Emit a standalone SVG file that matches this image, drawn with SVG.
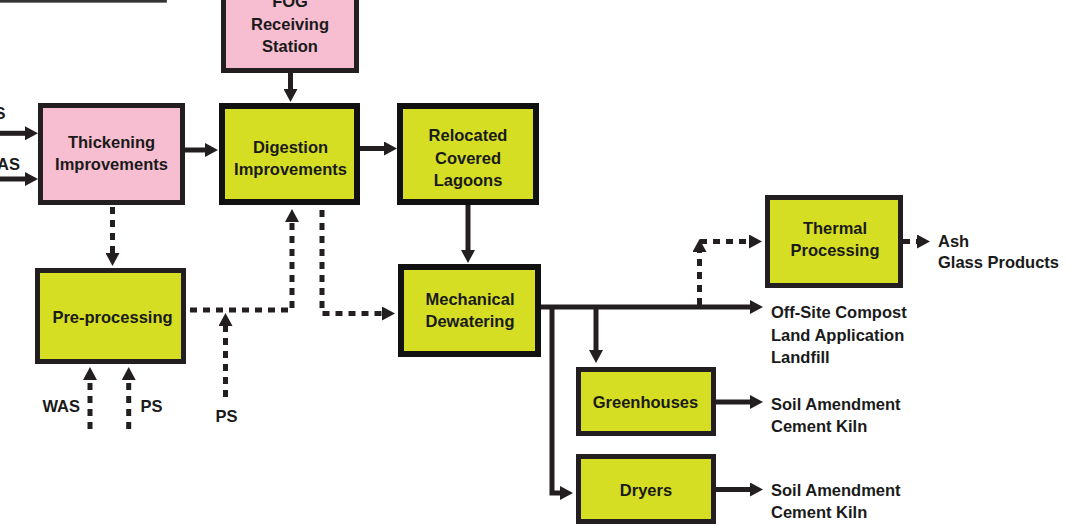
<svg xmlns="http://www.w3.org/2000/svg" width="1068" height="531" viewBox="0 0 1068 531">
<style>
.pink{fill:#f7bdd0;stroke:#231f20;stroke-width:5}
.green{fill:#d5de22;stroke:#231f20;stroke-width:5}
.gthick{fill:#d5de22;stroke:#111;stroke-width:6}
.t{font-family:"Liberation Sans",Arial,sans-serif;font-weight:bold;font-size:16.5px;fill:#1a1a1a}
.c{text-anchor:middle}
.e{text-anchor:end}
.solid{fill:none;stroke:#231f20;stroke-width:5;marker-end:url(#ah)}
.dot{fill:none;stroke:#231f20;stroke-width:5;stroke-dasharray:7 6;marker-end:url(#ah)}
</style>
<defs>
<marker id="ah" markerUnits="userSpaceOnUse" viewBox="0 0 13 14" markerWidth="13" markerHeight="14" refX="0" refY="7" orient="auto">
<path d="M0,0 L13,7 L0,14 z" fill="#231f20"/>
</marker>
</defs>
<rect width="1068" height="531" fill="#fff"/>
<g id="topleft-box"><rect x="-10" y="-20" width="175.5" height="21.3" fill="#fff" stroke="#333" stroke-width="2.7"/></g>
<g id="connectors">
<path class="solid" d="M0,133.3 H25"/>
<path class="solid" d="M0,179 H25"/>
<path class="solid" d="M185,150 H205"/>
<path class="solid" d="M290.5,73 V89"/>
<path class="solid" d="M360,148.5 H384"/>
<path class="solid" d="M468,205 V250"/>
<path class="solid" d="M541,307 H750"/>
<path class="solid" d="M596,307 V350"/>
<path class="solid" d="M552,307 V493 H560"/>
<path class="solid" d="M716,402 H750"/>
<path class="solid" d="M716,489.5 H750"/>
<path class="dot" d="M112.5,207 V253"/>
<path class="dot" d="M190,310 H292 V222"/>
<path class="dot" d="M225.5,397 V326"/>
<path class="dot" d="M90,429 V380"/>
<path class="dot" d="M128.7,429 V380"/>
<path class="dot" d="M322,210 V313.5 H382"/>
<path class="dot" d="M699.5,305 V252"/>
<path class="dot" d="M700,241.5 H749"/>
<path class="dot" d="M903,241.5 H917"/>
</g>
<g id="fog"><rect class="pink" x="223.5" y="-30" width="133" height="100.5"/>
<text class="t c" x="290" y="7">FOG</text><text class="t c" x="290" y="29.5">Receiving</text><text class="t c" x="290" y="52">Station</text></g>
<g id="thickening"><rect class="pink" x="40.5" y="105.5" width="142" height="97"/>
<text class="t c" x="111.5" y="148">Thickening</text><text class="t c" x="111.5" y="170">Improvements</text></g>
<g id="digestion"><rect class="gthick" x="222" y="106" width="135" height="96"/>
<text class="t c" x="290.5" y="152.5">Digestion</text><text class="t c" x="290.5" y="175">Improvements</text></g>
<g id="lagoons"><rect class="gthick" x="400" y="106" width="136" height="96"/>
<text class="t c" x="468" y="141">Relocated</text><text class="t c" x="468" y="163.5">Covered</text><text class="t c" x="468" y="185.5">Lagoons</text></g>
<g id="dewatering"><rect class="gthick" x="401" y="267" width="137" height="87"/>
<text class="t c" x="470" y="305">Mechanical</text><text class="t c" x="470" y="326.5">Dewatering</text></g>
<g id="preprocessing"><rect class="green" x="37.5" y="270.5" width="146" height="91"/>
<text class="t c" x="112.5" y="322.5">Pre-processing</text></g>
<g id="thermal"><rect class="green" x="767.5" y="197.5" width="133" height="88"/>
<text class="t c" x="835" y="233.5">Thermal</text><text class="t c" x="835" y="255.5">Processing</text></g>
<g id="greenhouses"><rect class="green" x="578.5" y="369.5" width="135" height="64"/>
<text class="t c" x="645.5" y="408">Greenhouses</text></g>
<g id="dryers"><rect class="green" x="578.5" y="456.5" width="135" height="65"/>
<text class="t c" x="646" y="495.5">Dryers</text></g>
<g id="labels">
<text class="t e" x="5.5" y="119">S</text>
<text class="t e" x="20" y="170">AS</text>
<text class="t e" x="80" y="411.5">WAS</text>
<text class="t" x="140.5" y="411.5">PS</text>
<text class="t c" x="226.5" y="421.5">PS</text>
<text class="t" x="938" y="246.5">Ash</text>
<text class="t" x="938" y="267.5">Glass Products</text>
<text class="t" x="771" y="318">Off-Site Compost</text>
<text class="t" x="771" y="341">Land Application</text>
<text class="t" x="771" y="363">Landfill</text>
<text class="t" x="771" y="409.5">Soil Amendment</text>
<text class="t" x="771" y="431.5">Cement Kiln</text>
<text class="t" x="771" y="496">Soil Amendment</text>
<text class="t" x="771" y="518">Cement Kiln</text>
</g>
</svg>
